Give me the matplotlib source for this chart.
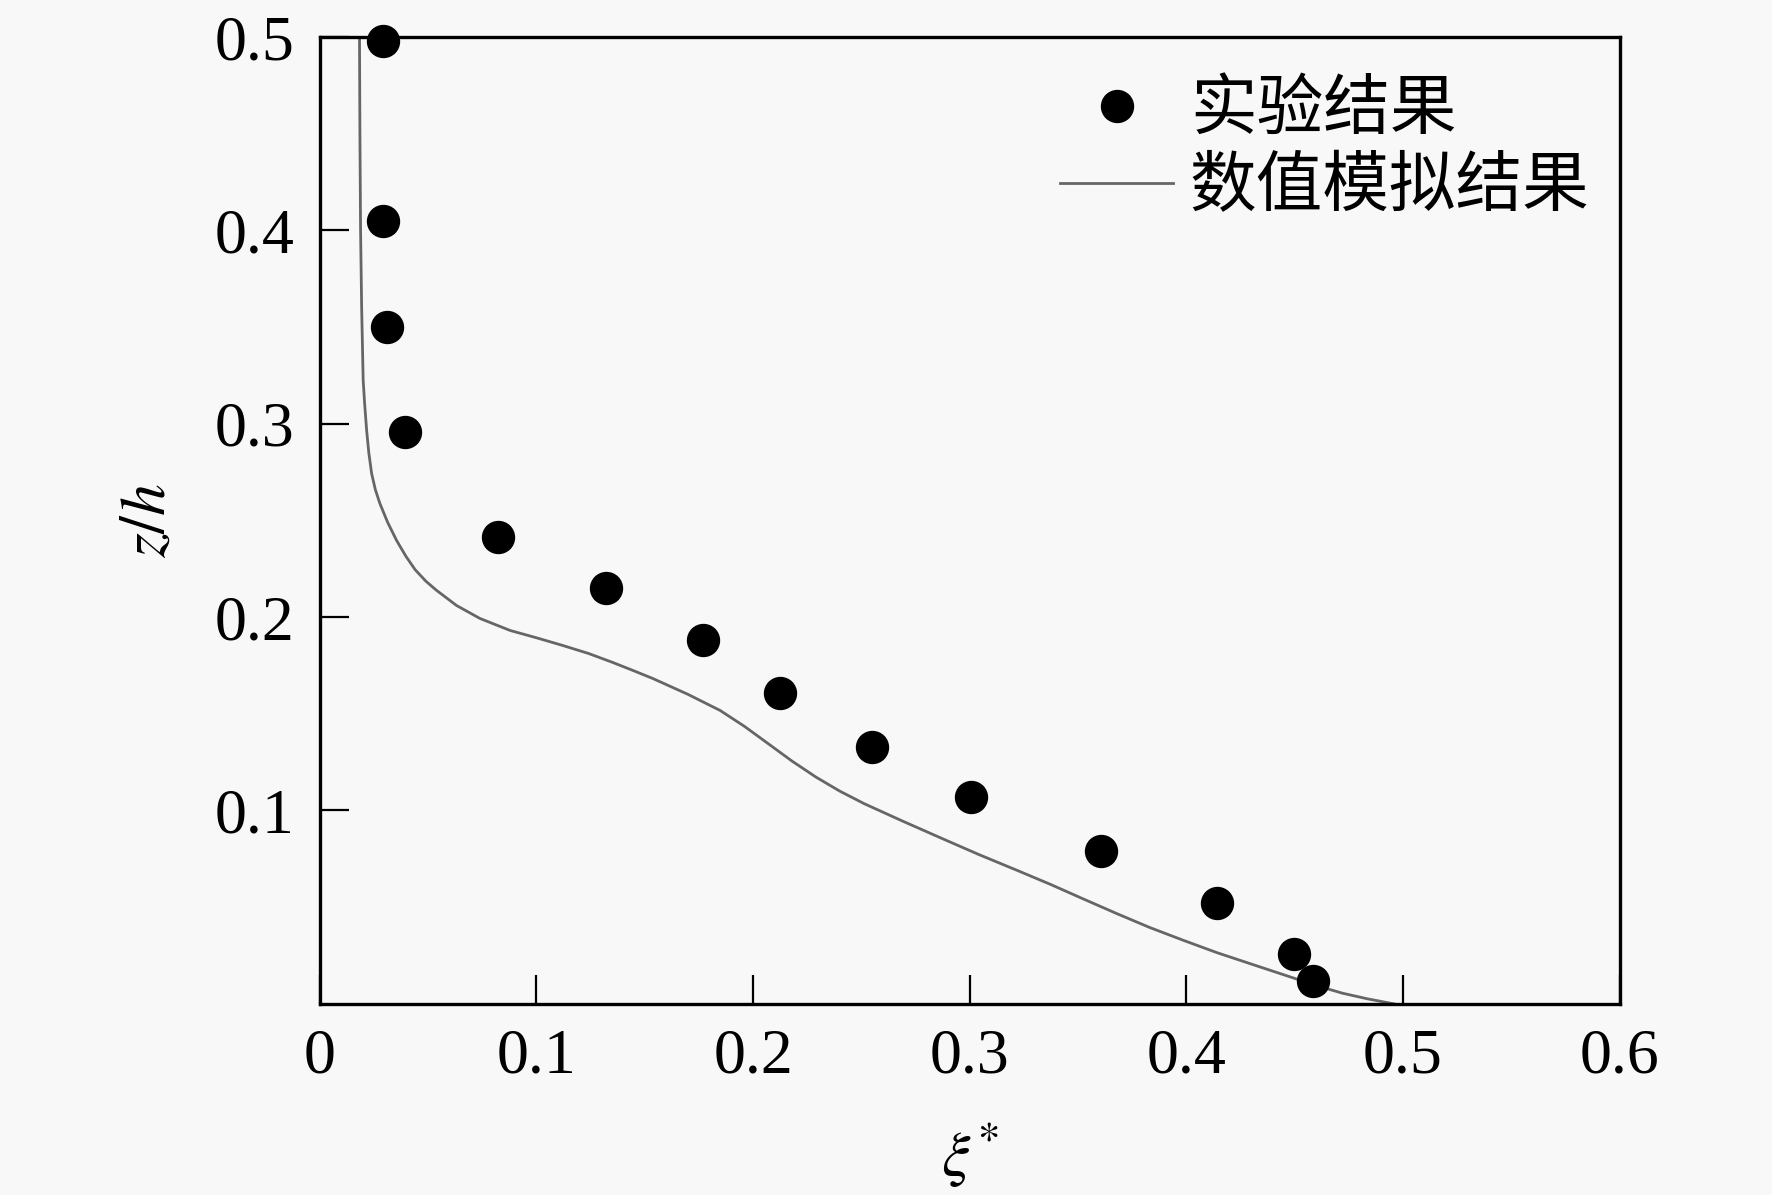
import matplotlib
matplotlib.use("Agg")
from matplotlib import pyplot as plt
from matplotlib.ticker import FixedLocator, FixedFormatter

plt.rcParams['font.family'] = ['Liberation Serif', 'Noto Sans CJK SC', 'DejaVu Sans']
plt.rcParams['mathtext.fontset'] = 'stix'

# experiment points
exp_xi = [0.029, 0.0292, 0.031, 0.0393, 0.0822, 0.132, 0.177, 0.2125, 0.2547, 0.3005,
          0.3606, 0.4143, 0.4495, 0.4585]
exp_z = [0.498, 0.405, 0.350, 0.2957, 0.2412, 0.215, 0.188, 0.161, 0.133, 0.107,
         0.0792, 0.0519, 0.0259, 0.0119]

# simulation curve
sim_xi = [0.0183, 0.0185, 0.0188, 0.0193, 0.0200, 0.0207, 0.0216, 0.0226, 0.0239,
          0.0256, 0.0277, 0.0313, 0.0354, 0.0397, 0.0440, 0.0490, 0.0539, 0.0631,
          0.0739, 0.0878, 0.1000, 0.1122, 0.1240, 0.1353, 0.1450, 0.1538, 0.1700,
          0.1848, 0.1960, 0.2069, 0.2180, 0.2291, 0.2400, 0.2513, 0.2690, 0.2864,
          0.3040, 0.3219, 0.3372, 0.3525, 0.3680, 0.3830, 0.3987, 0.4140, 0.4296,
          0.4450, 0.4604, 0.4720, 0.4835, 0.4957]
sim_z = [0.500, 0.450, 0.400, 0.360, 0.3225, 0.310, 0.2966, 0.285, 0.2743,
         0.266, 0.2588, 0.249, 0.2397, 0.2315, 0.2245, 0.2185, 0.2138, 0.2060,
         0.1993, 0.1931, 0.1893, 0.1853, 0.1812, 0.1765, 0.1722, 0.1682, 0.1600,
         0.1517, 0.1435, 0.1346, 0.1255, 0.1172, 0.1100, 0.1035, 0.0945, 0.0859,
         0.0773, 0.0690, 0.0618, 0.0542, 0.0466, 0.0395, 0.0328, 0.0265, 0.0207,
         0.0150, 0.0093, 0.0055, 0.0026, 0.0]

x_ticks = [0, 0.1, 0.2, 0.3, 0.4, 0.5, 0.6]
x_labels = ["0", "0.1", "0.2", "0.3", "0.4", "0.5", "0.6"]
y_ticks = [0.1, 0.2, 0.3, 0.4, 0.5]
y_labels = ["0.1", "0.2", "0.3", "0.4", "0.5"]

bg = "#f8f8f8"
fig = plt.figure(figsize=(17.72, 11.95), dpi=100, facecolor=bg)
ax = fig.add_axes([0.1805, 0.160, 0.7335, 0.809])
ax.set_facecolor(bg)

ax.plot(exp_xi, exp_z, "o", color="black", markersize=23, label="实验结果",
        clip_on=False, zorder=3)
ax.plot(sim_xi, sim_z, "-", color="#666666", linewidth=2, label="数值模拟结果")

ax.set_xlim(0, 0.6)
ax.set_ylim(0, 0.5)
ax.xaxis.set_major_locator(FixedLocator(x_ticks))
ax.xaxis.set_major_formatter(FixedFormatter(x_labels))
ax.yaxis.set_major_locator(FixedLocator(y_ticks))
ax.yaxis.set_major_formatter(FixedFormatter(y_labels))
ax.tick_params(direction="in", length=21, width=1.6, labelsize=46, pad=18,
               top=False, right=False)

for sp in ax.spines.values():
    sp.set_linewidth(2.4)

ax.set_xlabel(r"$\xi^{*}$", fontsize=46, labelpad=24)
ax.set_ylabel(r"$z/h$", fontsize=46, labelpad=26)

ax.legend(loc="upper right", bbox_to_anchor=(1.0, 0.99), frameon=False,
          prop={"family": ["Noto Sans CJK SC"], "size": 48},
          handlelength=1.7, handletextpad=0.25, labelspacing=0.14,
          borderaxespad=0.05, markerscale=1.0)

fig.savefig("out.png", dpi=100, facecolor=bg)
